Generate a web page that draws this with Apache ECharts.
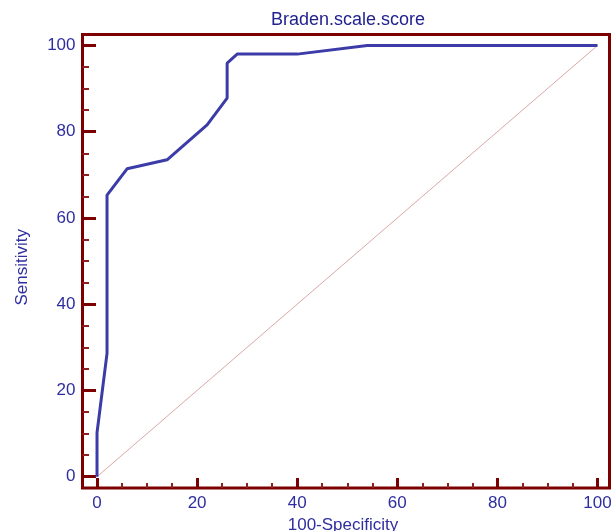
<!DOCTYPE html>
<html>
<head>
<meta charset="utf-8">
<script src="https://cdn.jsdelivr.net/npm/echarts@6/dist/echarts.min.js"></script>
<style>
html,body{margin:0;padding:0;background:#fff;}
#c{width:613px;height:531px;}
</style>
</head>
<body>
<div id="c"></div>
<script>
// ROC curve: Braden.scale.score
const specComplement = [0, 0, 2, 2, 6, 14, 22, 26, 26, 28, 40, 54, 100];
const sensitivity = [0, 10.2, 28.6, 65.3, 71.4, 73.5, 81.6, 87.8, 95.9, 98, 98, 100, 100];
const diagX = [0, 100];
const diagY = [0, 100];
const majorTicks = [0, 20, 40, 60, 80, 100];
const minorTicks = [5, 10, 15, 25, 30, 35, 45, 50, 55, 65, 70, 75, 85, 90, 95];
const titleText = 'Braden.scale.score';
const xName = '100-Specificity';
const yName = 'Sensitivity';

const FONT = '"Liberation Sans", Arial, sans-serif';
const BLUE = '#2e2ea0';
const DARK = '#7d0000';
const MINOR = '#8e2020';

const rocData = specComplement.map((x, i) => [x, sensitivity[i]]);
const diagData = diagX.map((x, i) => [x, diagY[i]]);

const X_MIN = -2.9, X_MAX = 102.4, Y_MIN = -2.62, Y_MAX = 102.55;

function axisBase(extra) {
  return Object.assign({
    gridIndex: 0, type: 'value', splitLine: {show: false},
    axisLine: {show: false, onZero: false}
  }, extra);
}

const chart = echarts.init(document.getElementById('c'), null, {renderer: 'canvas'});
chart.setOption({
  animation: false,
  backgroundColor: '#ffffff',
  title: {
    text: titleText,
    left: 266,
    top: 6,
    textStyle: {fontFamily: FONT, fontSize: 18, fontWeight: 'normal', color: '#22228f'}
  },
  grid: [
    {left: 82.5, right: 3.5, top: 34.5, bottom: 43, containLabel: false, outerBoundsMode: 'none',
     show: true, borderColor: DARK, borderWidth: 3, backgroundColor: 'transparent'}
  ],
  xAxis: [
    axisBase({
      min: X_MIN, max: X_MAX, position: 'bottom',
      name: xName, nameLocation: 'middle', nameGap: 28,
      nameTextStyle: {fontFamily: FONT, fontSize: 17, color: BLUE, padding: [0, 6, 0, 0]},
      axisTick: {show: true, inside: true, length: 10, customValues: majorTicks, lineStyle: {color: DARK, width: 3}},
      axisLabel: {show: true, customValues: majorTicks, fontFamily: FONT, fontSize: 17, color: BLUE, margin: 7}
    }),
    axisBase({
      min: X_MIN, max: X_MAX, position: 'bottom', offset: 0,
      axisTick: {show: true, inside: true, length: 5, customValues: minorTicks, lineStyle: {color: MINOR, width: 2}},
      axisLabel: {show: false}
    })
  ],
  yAxis: [
    axisBase({
      min: Y_MIN, max: Y_MAX, position: 'left',
      name: yName, nameLocation: 'middle', nameGap: 52,
      nameTextStyle: {fontFamily: FONT, fontSize: 17, color: BLUE, padding: [0, 12, 0, 0]},
      axisTick: {show: true, inside: true, length: 13.5, customValues: majorTicks, lineStyle: {color: DARK, width: 3}},
      axisLabel: {show: true, customValues: majorTicks, fontFamily: FONT, fontSize: 17, color: BLUE, margin: 7}
    }),
    axisBase({
      min: Y_MIN, max: Y_MAX, position: 'left', offset: 0,
      axisTick: {show: true, inside: true, length: 6.5, customValues: minorTicks, lineStyle: {color: MINOR, width: 2}},
      axisLabel: {show: false}
    })
  ],
  series: [
    {
      type: 'line', xAxisIndex: 0, yAxisIndex: 0, data: diagData,
      symbol: 'none', lineStyle: {color: '#dba8a8', width: 1}, z: 1
    },
    {
      type: 'line', xAxisIndex: 0, yAxisIndex: 0, data: rocData,
      symbol: 'none', lineStyle: {color: '#3c3ca8', width: 3}, z: 2
    }
  ]
});
</script>
</body>
</html>
